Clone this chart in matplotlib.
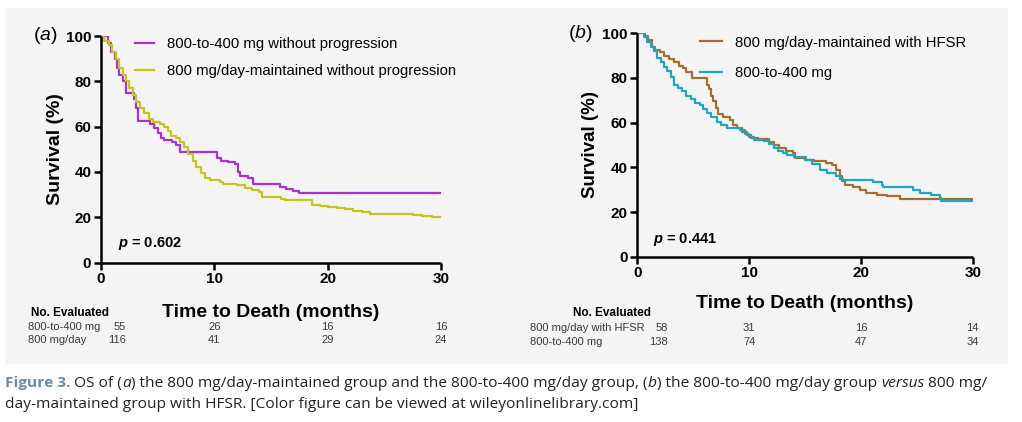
import matplotlib
matplotlib.use("Agg")
import matplotlib.pyplot as plt
from matplotlib.patches import Rectangle

plt.rcParams['font.family'] = ['Liberation Sans', 'DejaVu Sans']
plt.rcParams['mathtext.fontset'] = 'custom'
plt.rcParams['mathtext.it'] = 'Liberation Sans:italic'
plt.rcParams['mathtext.bfit'] = 'Liberation Sans:italic:bold'

# ---- data (time in months, survival in %) ----
# panel (a)
t_a_purple = [0, 0.6, 0.9, 1.2, 1.4, 1.6, 1.9, 2.2, 2.9, 3.1, 3.3, 4.3, 4.7, 5.0, 5.3, 5.6, 6.3,
              6.6, 6.95, 10.2, 10.6, 11.2, 11.8, 12.1, 12.3, 13.0, 13.4, 15.8, 16.3, 16.9, 17.5, 30]
s_a_purple = [100, 97, 93, 90, 86, 83, 80, 75, 72, 68, 62.5, 61, 59.5, 57, 55, 54, 53,
              52, 49, 46, 45, 44.5, 43.5, 40, 38, 37.5, 34.5, 33.5, 32.5, 31.5, 30.5, 30.5]
t_a_yellow = [0, 0.3, 0.7, 1.0, 1.3, 1.6, 1.9, 2.2, 2.5, 2.8, 3.1, 3.4, 3.8, 4.2, 4.6, 5.2, 5.6,
              5.9, 6.2, 6.6, 7.0, 7.3, 7.7, 8.1, 8.4, 8.8, 9.2, 9.6, 10.5, 10.8, 12.0, 12.7, 13.3,
              13.9, 14.2, 15.9, 16.2, 18.6, 19.3, 20.0, 20.8, 21.5, 22.2, 23.0, 23.7, 27.5, 28.3,
              29.2, 30]
s_a_yellow = [100, 98, 96, 93, 90, 86, 83, 80, 77, 74, 71, 68, 66, 63.5, 62, 61, 60,
              58, 56, 55, 53, 51, 48, 45, 42, 39.5, 37.5, 36.5, 35.5, 34.5, 34, 33, 32,
              31, 29, 28, 27.5, 25.5, 25, 24.5, 24, 23.5, 22.8, 22.2, 21.5, 21, 20.5,
              20, 20]
# panel (b)
t_b_brown = [0, 0.7, 1.0, 1.3, 1.6, 2.0, 2.4, 2.8, 3.3, 3.7, 4.1, 4.4, 4.85, 6.2, 6.4, 6.6, 6.8,
             7.0, 7.25, 7.7, 8.3, 8.6, 8.9, 9.4, 9.8, 10.2, 10.8, 11.8, 12.2, 12.7, 13.3, 13.95,
             14.1, 15.0, 15.8, 16.9, 17.4, 17.8, 18.1, 18.3, 18.6, 19.3, 19.9, 20.5, 21.4, 22.3,
             23.5, 30]
s_b_brown = [100, 99, 97, 94, 92.5, 91.5, 90, 88.5, 87, 85.5, 84.5, 82.5, 80, 77, 75, 72, 69.5,
             66.5, 64, 62.5, 61, 59, 57.5, 56, 54.5, 53, 52.5, 51.5, 50, 48.5, 47.5, 46.5,
             44, 43.5, 42.8, 42, 41, 39, 36, 34, 32, 31, 30, 28.5, 27.6, 27,
             26, 26]
t_b_cyan = [0, 0.6, 0.9, 1.2, 1.5, 1.8, 2.1, 2.4, 2.7, 3.0, 3.3, 3.6, 4.0, 4.4, 4.8, 5.2, 5.6,
            5.9, 6.2, 6.6, 7.1, 7.5, 8.0, 9.2, 9.6, 10.0, 10.4, 11.3, 11.8, 12.2, 12.6, 13.0,
            13.4, 14.0, 15.1, 15.6, 16.3, 17.0, 17.8, 18.1, 18.4, 21.1, 21.9, 22.0, 24.7, 25.3,
            26.3, 27.1, 27.2, 30]
s_b_cyan = [100, 98.5, 96, 94, 92, 89, 87, 85, 83, 80.5, 77, 75.5, 74, 72, 70.5, 69, 68,
            66, 64.3, 62.5, 60.5, 59, 57.5, 56.5, 55, 53.5, 52.4, 52, 50.5, 48.5, 47.5, 46.5,
            45.5, 44.8, 43.3, 41.5, 39, 37.5, 36, 35, 34.3, 33.5, 32, 31.3, 29.9, 28.4,
            27.5, 26.1, 25.1, 25.1]

labels_a = ['800-to-400 mg without progression', '800 mg/day-maintained without progression']
labels_b = ['800 mg/day-maintained with HFSR', '800-to-400 mg']
risk_times = [0, 10, 20, 30]
risk_a = {'800-to-400 mg': [55, 26, 16, 16], '800 mg/day': [116, 41, 29, 24]}
risk_b = {'800 mg/day with HFSR': [58, 31, 16, 14], '800-to-400 mg': [138, 74, 47, 34]}

W, H = 1022, 422
BG = '#f4f4f4'

def fx(x):
    return x / W

def fy(y):
    return 1 - y / H

fig = plt.figure(figsize=(W / 100, H / 100), dpi=100)
fig.patch.set_facecolor('white')
fig.patches.append(Rectangle((fx(5), fy(364)), fx(1003), (364 - 8) / H,
                             transform=fig.transFigure, facecolor=BG, edgecolor='none', zorder=-10))

ax_a = fig.add_axes([fx(101), fy(262.5), 340 / W, 226.5 / H])
ax_b = fig.add_axes([fx(637.3), fy(256.7), 335.4 / W, 223.4 / H])


def style_axes(ax, ylab_size, ypad, xpad):
    ax.set_facecolor('none')
    ax.set_xlim(0, 30)
    ax.set_ylim(0, 100)
    ax.set_xticks([0, 10, 20, 30])
    ax.set_yticks([0, 20, 40, 60, 80, 100])
    for sp in ['top', 'right']:
        ax.spines[sp].set_visible(False)
    for sp in ['left', 'bottom']:
        ax.spines[sp].set_linewidth(1.8)
        ax.spines[sp].set_capstyle('butt')
    ax.tick_params(direction='out', length=5, width=1.8, labelsize=11, pad=2)
    for lab in ax.get_xticklabels() + ax.get_yticklabels():
        lab.set_fontweight('bold')
    ax.set_ylabel('Survival (%)', fontsize=ylab_size, fontweight='bold', labelpad=ypad)
    ax.set_xlabel('Time to Death (months)', fontsize=14, fontweight='bold', labelpad=xpad)


# panel (a)
ax_a.step(t_a_purple, s_a_purple, where='post', color='#ab30cf', lw=1.6, label=labels_a[0])
ax_a.step(t_a_yellow, s_a_yellow, where='post', color='#c6c51d', lw=1.6, label=labels_a[1])
style_axes(ax_a, 14, 1.5, 12.5)
ax_a.legend(loc='upper left', bbox_to_anchor=(0.1, 0.995), frameon=False, fontsize=10.7,
            handlelength=1.3, handletextpad=0.85, labelspacing=0.85, borderpad=0, borderaxespad=0)
ax_a.text(1.5, 8.2, r'$\mathbfit{p}$ = 0.602', fontsize=10.5, fontweight='bold', va='center')

# panel (b)
ax_b.step(t_b_brown, s_b_brown, where='post', color='#a2702c', lw=1.6, label=labels_b[0])
ax_b.step(t_b_cyan, s_b_cyan, where='post', color='#1fa5c5', lw=1.6, label=labels_b[1])
style_axes(ax_b, 13.5, 2.5, 10.3)
ax_b.legend(loc='upper left', bbox_to_anchor=(0.187, 0.99), frameon=False, fontsize=10.7,
            handlelength=1.5, handletextpad=0.85, labelspacing=1.1, borderpad=0, borderaxespad=0)
ax_b.text(1.4, 7.9, r'$\mathbfit{p}$ = 0.441', fontsize=10.5, fontweight='bold', va='center')

# (a) / (b) tags
for x, y, ch in [(33, 35, 'a'), (568, 33, 'b')]:
    fig.text(fx(x), fy(y), '(' + r'$\mathit{' + ch + '}$' + ')', fontsize=14, va='center', ha='left')

# number-at-risk tables
def risk_table(table, head_x, head_y, label_x, row_y, first_x, axes_left, axes_w):
    fig.text(fx(head_x), fy(head_y), 'No. Evaluated', fontsize=8.5, fontweight='bold',
             ha='center', va='center')
    for (name, vals), y in zip(table.items(), row_y):
        fig.text(fx(label_x), fy(y), name, fontsize=8, color='#3a3a3a', ha='left', va='center')
        for i, (t, v) in enumerate(zip(risk_times, vals)):
            xt = first_x if i == 0 else t
            ha = 'right' if i == 0 else 'center'
            xp = axes_left + xt / 30 * axes_w
            fig.text(fx(xp), fy(y), str(v), fontsize=8, color='#3a3a3a', ha=ha, va='center')

risk_table(risk_a, 70, 313.3, 28, [326.7, 340], 2.2, 101, 340)
risk_table(risk_b, 611.7, 313.3, 530, [328.3, 341.7], 2.75, 637.3, 335.4)

# caption
cap_font = ['Open Sans', 'DejaVu Sans']
line1 = [('Figure 3.', '#6d8ca3', 'normal', 'bold'),
         (' OS of (', '#222222', 'normal', 'normal'),
         ('a', '#222222', 'italic', 'normal'),
         (') the 800 mg/day-maintained group and the 800-to-400 mg/day group, (', '#222222', 'normal', 'normal'),
         ('b', '#222222', 'italic', 'normal'),
         (') the 800-to-400 mg/day group ', '#222222', 'normal', 'normal'),
         ('versus', '#222222', 'italic', 'normal'),
         (' 800 mg/', '#222222', 'normal', 'normal')]
line2 = [('day-maintained group with HFSR. [Color figure can be viewed at wileyonlinelibrary.com]',
          '#222222', 'normal', 'normal')]

renderer = fig.canvas.get_renderer()


def draw_runs(runs, x0, ybase, size):
    x = x0
    for txt, col, style, weight in runs:
        t = fig.text(fx(x), fy(ybase), txt, fontsize=size, color=col, style=style,
                     fontweight=weight, family=cap_font, ha='left', va='baseline')
        bb = t.get_window_extent(renderer)
        x += bb.width
    return x - x0


# fit first caption line to its width in the reference
probe = [fig.text(0, 0, r[0], fontsize=10, style=r[2], fontweight=r[3], family=cap_font)
         for r in line1]
wsum = sum(p.get_window_extent(renderer).width for p in probe)
for p in probe:
    p.remove()
cap_size = 10 * 980 / wsum
draw_runs(line1, 5, 387, cap_size)
draw_runs(line2, 5, 408, cap_size)

fig.savefig('out.png', dpi=100, facecolor=fig.get_facecolor())
